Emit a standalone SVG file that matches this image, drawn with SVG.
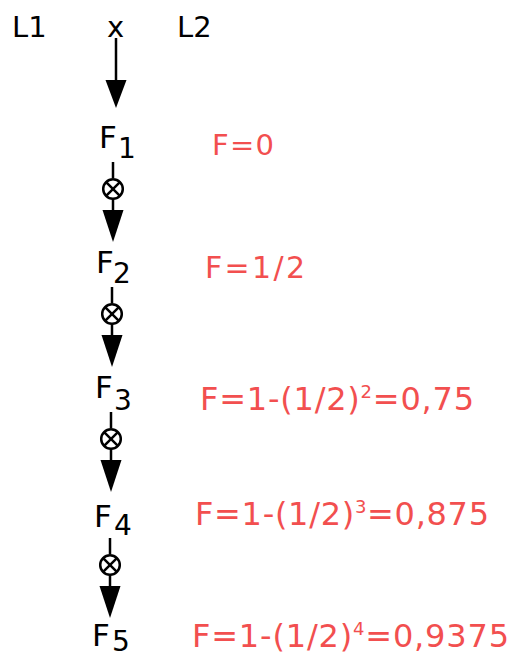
<svg xmlns="http://www.w3.org/2000/svg" width="512" height="658" viewBox="0 0 512 658">
  <style>
    text { font-family: "DejaVu Sans", "Liberation Sans", sans-serif; }
    .lbl { fill: #000; font-size: 29px; }
    .f { fill: #000; font-size: 31px; }
    .sub { fill: #000; font-size: 28px; }
    .val { fill: #f24f4f; }
    .sup { font-size: 18px; }
    .ln { stroke: #000; stroke-width: 2.5; fill: none; }
    .head { fill: #000; }
  </style>
  <defs>
    <!-- a line segment, a crossed circle, then an arrowhead -->
    <g id="step">
      <line class="ln" x1="0" y1="0" x2="0" y2="16"/>
      <circle class="ln" cx="0" cy="27" r="9.8"/>
      <line class="ln" x1="-6.9" y1="20.1" x2="6.9" y2="33.9"/>
      <line class="ln" x1="6.9" y1="20.1" x2="-6.9" y2="33.9"/>
      <line class="ln" x1="0" y1="37" x2="0" y2="50"/>
      <polygon class="head" points="-10.5,48 10.5,48 0,80"/>
    </g>
  </defs>

  <g id="header">
    <text class="lbl" x="12" y="37">L1</text>
    <text class="lbl" x="107" y="37">x</text>
    <text class="lbl" x="177" y="37">L2</text>
  </g>

  <g id="connectors">
    <line class="ln" x1="116" y1="38" x2="116" y2="82"/>
    <polygon class="head" points="105.5,80 126.5,80 116,108"/>
    <use href="#step" x="113" y="162"/>
    <use href="#step" x="112" y="287"/>
    <use href="#step" x="111" y="412"/>
    <use href="#step" x="110" y="538"/>
  </g>

  <g id="F1">
    <text class="f" x="99" y="148">F</text>
    <text class="sub" x="118" y="158">1</text>
  </g>
  <g id="F2">
    <text class="f" x="96" y="273">F</text>
    <text class="sub" x="113" y="283">2</text>
  </g>
  <g id="F3">
    <text class="f" x="95" y="398">F</text>
    <text class="sub" x="114" y="410">3</text>
  </g>
  <g id="F4">
    <text class="f" x="94" y="527">F</text>
    <text class="sub" x="114" y="535">4</text>
  </g>
  <g id="F5">
    <text class="f" x="92" y="646">F</text>
    <text class="sub" x="112" y="651">5</text>
  </g>

  <g id="values">
    <text class="val" font-size="29" x="212" y="155" textLength="62">F=0</text>
    <text class="val" font-size="30" x="205" y="278" textLength="100">F=1/2</text>
    <text class="val" font-size="32" x="200" y="410" textLength="274">F=1-(1/2)<tspan class="sup" dy="-12">2</tspan><tspan dy="12">=0,75</tspan></text>
    <text class="val" font-size="32" x="195" y="525" textLength="294">F=1-(1/2)<tspan class="sup" dy="-12">3</tspan><tspan dy="12">=0,875</tspan></text>
    <text class="val" font-size="32" x="192" y="647" textLength="317">F=1-(1/2)<tspan class="sup" dy="-12">4</tspan><tspan dy="12">=0,9375</tspan></text>
  </g>
</svg>
